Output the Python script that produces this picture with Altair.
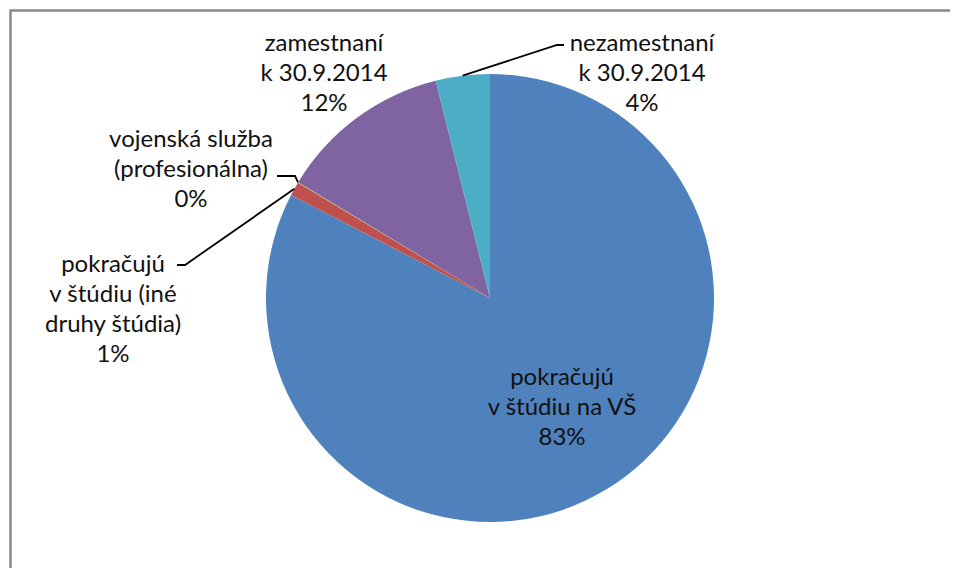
import math
import altair as alt
import pandas as pd

# ---- data ----
categories = [
    "pokračujú v štúdiu na VŠ",
    "pokračujú v štúdiu (iné druhy štúdia)",
    "vojenská služba (profesionálna)",
    "zamestnaní k 30.9.2014",
    "nezamestnaní k 30.9.2014",
]
label_lines = [
    ["pokračujú", "v štúdiu na VŠ"],
    ["pokračujú", "v štúdiu (iné", "druhy štúdia)"],
    ["vojenská služba", "(profesionálna)"],
    ["zamestnaní", "k 30.9.2014"],
    ["nezamestnaní", "k 30.9.2014"],
]
values = [82.6, 1.0, 0.05, 12.45, 3.9]
colors = ["#4F81BD", "#C0504D", "#9BBB59", "#8064A2", "#4BACC6"]

# ---- layout ----
W, H = 942, 560
CX, CY, R = 482, 290, 224
# centre of the first line of each label
label_pos = [(554, 370), (105, 257), (183, 132), (316, 36), (634, 36)]
# leader line elbows (label side), for slices that use a leader line
elbows = {1: [(177, 257), (169, 257)], 2: [(287, 168), (269, 168)], 4: [(549, 37), (556, 37)]}

total = sum(values)
pie_rows, text_rows, line_rows = [], [], []
cum = 0.0
for i, (c, v) in enumerate(zip(categories, values)):
    mid = (cum + v / 2) / total
    cum += v
    pie_rows.append({"cat": c, "value": v, "idx": i})
    pct = f"{round(v / total * 100)}%"
    lx, ly = label_pos[i]
    text_rows.append({"label": "\n".join(label_lines[i] + [pct]), "lx": lx, "ly": ly})
    if i in elbows:
        a = 2 * math.pi * mid
        px, py = CX + R * math.sin(a), CY - R * math.cos(a)
        pts = [(px, py)] + elbows[i]
        for k, (x, y) in enumerate(pts):
            line_rows.append({"g": i, "k": k, "x": x, "y": y})

pie_df = pd.DataFrame(pie_rows)
text_df = pd.DataFrame(text_rows)
line_df = pd.DataFrame(line_rows)
one = pd.DataFrame({"a": [0]})

# outer frame: only its top and left edges fall inside the picture
frame = alt.Chart(one).mark_rect(fill=None, stroke="#898989", strokeWidth=2.5).encode(
    x=alt.value(2.5), x2=alt.value(W + 60), y=alt.value(2.5), y2=alt.value(H + 60)
)

arcs = alt.Chart(pie_df).mark_arc(radius=R).encode(
    theta=alt.Theta("value:Q", stack=True),
    color=alt.Color("cat:N", scale=alt.Scale(domain=categories, range=colors), legend=None),
    order=alt.Order("idx:Q"),
    x=alt.value(CX),
    y=alt.value(CY),
)

lines = alt.Chart(line_df).mark_line(color="black", strokeWidth=1.8).encode(
    x=alt.X("x:Q", scale=None, axis=None),
    y=alt.Y("y:Q", scale=None, axis=None),
    detail="g:N",
    order="k:Q",
)

texts = alt.Chart(text_df).mark_text(
    font="Lato", fontSize=24, lineHeight=30, align="center", baseline="middle",
    color="#111111", lineBreak="\n",
).encode(
    x=alt.X("lx:Q", scale=None, axis=None),
    y=alt.Y("ly:Q", scale=None, axis=None),
    text="label:N",
)

chart = alt.layer(frame, arcs, lines, texts).properties(
    width=W, height=H, padding=0, background="white",
    autosize=alt.AutoSizeParams(type="none"),
).configure_view(stroke=None)

chart.save("out.html", embed_options={"renderer": "svg", "actions": False})
